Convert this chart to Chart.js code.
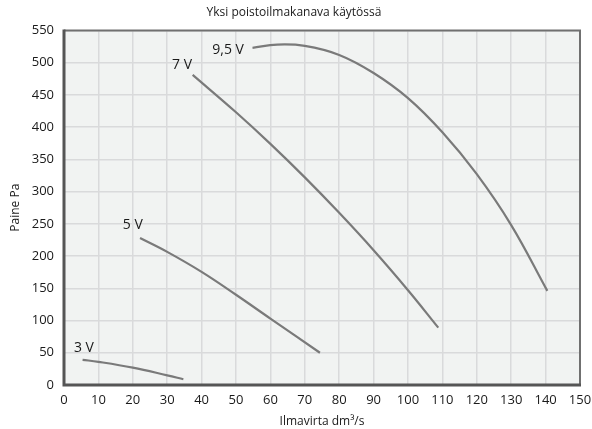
<!DOCTYPE html>
<html>
<head>
<meta charset="utf-8">
<script src="https://cdn.jsdelivr.net/npm/chart.js@4"></script>
<style>
  html, body { margin: 0; padding: 0; background: #fff; }
  #wrap { width: 592px; height: 429px; }
</style>
</head>
<body>
<div id="wrap"><canvas id="chart"></canvas></div>
<script>
// --- Data ---
const TITLE = 'Yksi poistoilmakanava käytössä';
const X_TITLE = 'Ilmavirta dm³/s';
const Y_TITLE = 'Paine Pa';

const curveNames = ['3 V', '5 V', '7 V', '9,5 V'];

const v3x = [5.4, 10, 20, 30, 34.7];
const v3y = [39, 36, 27, 15, 9];

const v5x = [22.1, 30, 40, 50, 60, 74.4];
const v5y = [228, 206.5, 175.5, 140, 103, 50];

const v7x = [37.4, 50, 60, 70, 80, 90, 100, 108.8];
const v7y = [481, 423, 374, 322, 267, 209, 147, 89];

const v95x = [54.8, 62, 70, 80, 90, 100, 110, 120, 130, 140.5];
const v95y = [523, 528, 526, 512, 484, 445, 392, 327, 248, 146];

// label anchors (data units)
const labelX = [5.8, 20, 34.3, 47.7];
const labelY = [57, 248, 496, 519];

const xTicks = [0, 10, 20, 30, 40, 50, 60, 70, 80, 90, 100, 110, 120, 130, 140, 150];
const yTicks = [0, 50, 100, 150, 200, 250, 300, 350, 400, 450, 500, 550];

// --- Helpers ---
const toPoints = (xs, ys) => xs.map((x, i) => ({ x, y: ys[i] }));
const FONT = '"Open Sans", "DejaVu Sans", sans-serif';
const LINE = '#7a7a7a';
const TEXT = '#1a1a1a';

const series = [toPoints(v3x, v3y), toPoints(v5x, v5y), toPoints(v7x, v7y), toPoints(v95x, v95y)];

// plot background + frame
const framePlugin = {
  id: 'frame',
  beforeDraw(chart) {
    const { ctx, chartArea: a } = chart;
    ctx.save();
    ctx.fillStyle = '#f1f3f2';
    ctx.fillRect(a.left, a.top, a.right - a.left, a.bottom - a.top);
    ctx.restore();
  },
  afterDatasetsDraw(chart) {
    const { ctx, chartArea: a } = chart;
    ctx.save();
    ctx.strokeStyle = '#707070';
    ctx.lineWidth = 2;
    ctx.beginPath();
    ctx.moveTo(a.left, a.top);
    ctx.lineTo(a.right, a.top);
    ctx.lineTo(a.right, a.bottom);
    ctx.stroke();
    ctx.strokeStyle = '#555';
    ctx.lineWidth = 3;
    ctx.beginPath();
    ctx.moveTo(a.left, a.top - 1);
    ctx.lineTo(a.left, a.bottom);
    ctx.lineTo(a.right + 1, a.bottom);
    ctx.stroke();
    ctx.restore();
  }
};

// curve labels
const labelPlugin = {
  id: 'curveLabels',
  afterDatasetsDraw(chart) {
    const { ctx, scales: { x, y } } = chart;
    ctx.save();
    ctx.font = '14px ' + FONT;
    ctx.fillStyle = TEXT;
    ctx.textAlign = 'center';
    ctx.textBaseline = 'middle';
    curveNames.forEach((name, i) => {
      ctx.fillText(name, x.getPixelForValue(labelX[i]), y.getPixelForValue(labelY[i]));
    });
    ctx.restore();
  }
};

new Chart(document.getElementById('chart'), {
  type: 'scatter',
  data: {
    datasets: series.map((pts, i) => ({
      label: curveNames[i],
      data: pts,
      showLine: true,
      borderColor: LINE,
      borderWidth: 2.2,
      pointRadius: 0,
      tension: 0.4,
      fill: false
    }))
  },
  options: {
    responsive: true,
    maintainAspectRatio: false,
    animation: false,
    devicePixelRatio: 1,
    layout: { padding: { left: 8, right: 12, top: 0, bottom: 0 } },
    plugins: {
      legend: { display: false },
      tooltip: { enabled: false },
      title: {
        display: true,
        text: TITLE,
        color: TEXT,
        font: { family: FONT, size: 12, weight: 'normal' },
        padding: { top: 5, bottom: 11 }
      }
    },
    scales: {
      x: {
        type: 'linear',
        min: 0,
        max: 150,
        afterBuildTicks: (s) => { s.ticks = xTicks.map(v => ({ value: v })); },
        afterFit: (s) => { s.height = 44; s.paddingRight = 0; s.paddingLeft = 0; },
        grid: { color: '#d9dadb', lineWidth: 1.5, drawTicks: false },
        border: { display: false },
        ticks: { color: TEXT, font: { family: FONT, size: 13 }, padding: 7, maxRotation: 0, autoSkip: false },
        title: { display: true, text: X_TITLE, color: TEXT, font: { family: FONT, size: 12 }, padding: { top: 0, bottom: 0 } }
      },
      y: {
        type: 'linear',
        min: 0,
        max: 550,
        afterBuildTicks: (s) => { s.ticks = yTicks.map(v => ({ value: v })); },
        afterFit: (s) => { s.width = 56; },
        grid: { color: '#d9dadb', lineWidth: 1.5, drawTicks: false },
        border: { display: false },
        ticks: { color: TEXT, font: { family: FONT, size: 13 }, padding: 10, autoSkip: false },
        title: { display: true, text: Y_TITLE, color: TEXT, font: { family: FONT, size: 12 }, padding: { top: 0, bottom: 0 } }
      }
    }
  },
  plugins: [framePlugin, labelPlugin]
});
</script>
</body>
</html>
